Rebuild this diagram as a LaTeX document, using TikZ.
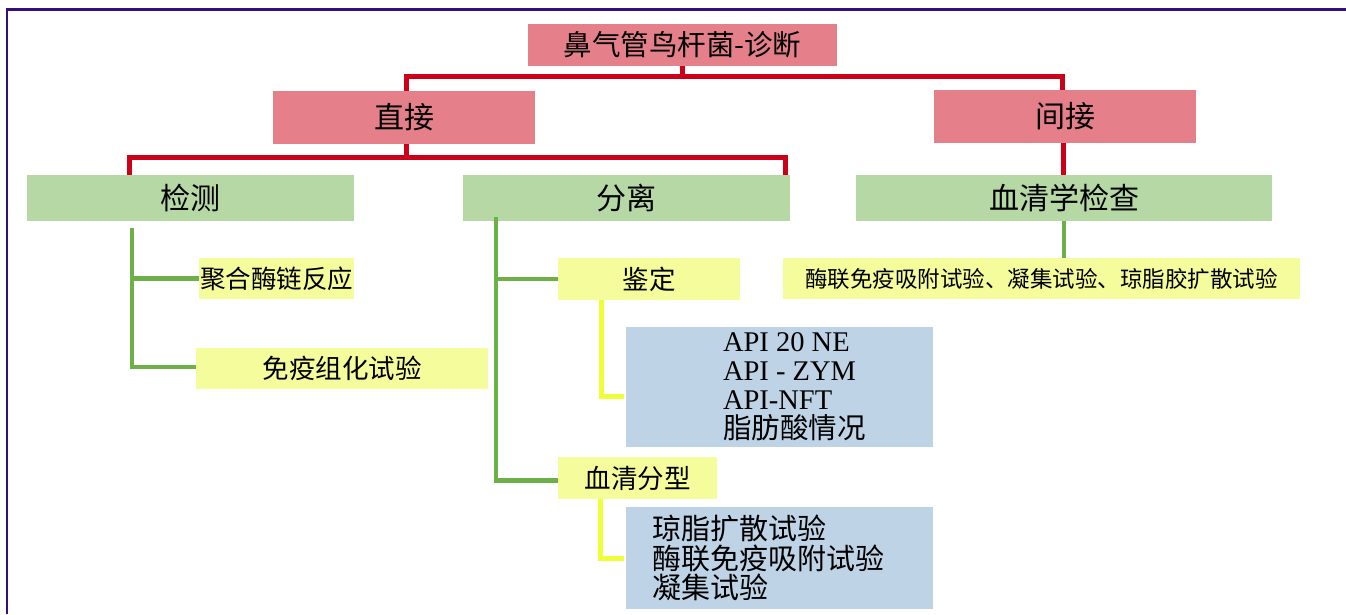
\documentclass[tikz,border=0pt]{standalone}
\usepackage{fontspec}
\setmainfont{Liberation Serif}
\newfontfamily\cjk{Noto Sans CJK SC}
\usetikzlibrary{calc}
\definecolor{boxred}{HTML}{E5808A}
\definecolor{linered}{HTML}{CC0019}
\definecolor{boxgreen}{HTML}{B5D8A4}
\definecolor{linegreen}{HTML}{6DB048}
\definecolor{boxyellow}{HTML}{F4FC9C}
\definecolor{lineyellow}{HTML}{EEFF38}
\definecolor{boxblue}{HTML}{BED4E6}
\definecolor{framepurple}{HTML}{35107A}
\tikzset{
  basebox/.style={rectangle, inner sep=0pt, outer sep=0pt, text=black},
  redbox/.style={basebox, fill=boxred},
  greenbox/.style={basebox, fill=boxgreen},
  yellowbox/.style={basebox, fill=boxyellow},
  bluebox/.style={basebox, fill=boxblue},
  redline/.style={draw=linered, line width=5pt},
  greenline/.style={draw=linegreen, line width=4.5pt},
  yellowline/.style={draw=lineyellow, line width=5pt},
  cjkfont/.style={font=\cjk\fontsize{#1}{#1}\selectfont},
}
\begin{document}
\begin{tikzpicture}[x=1pt,y=-1pt]
\useasboundingbox (0,0) rectangle (1346,614);
% frame
\draw[framepurple, line width=2.5pt] (7,614) -- (7,9.5) -- (1346,9.5);

% level 1
\node[redbox, cjkfont=28.5, minimum width=309pt, minimum height=42pt] (title) at (682.5,45) {鼻气管鸟杆菌-诊断};
% level 2
\node[redbox, cjkfont=30, minimum width=262pt, minimum height=53pt] (zj) at (404,117.5) {直接};
\node[redbox, cjkfont=30, minimum width=262pt, minimum height=53pt] (jj) at (1065,116.5) {间接};
% level 3
\node[greenbox, cjkfont=30, minimum width=327pt, minimum height=46pt] (jc) at (190.5,198) {检测};
\node[greenbox, cjkfont=30, minimum width=327pt, minimum height=46pt] (fl) at (626.5,198) {分离};
\node[greenbox, cjkfont=30, minimum width=416pt, minimum height=46pt] (xq) at (1064,198) {血清学检查};
% level 4
\node[yellowbox, cjkfont=25.5, minimum width=155pt, minimum height=41pt] (pcr) at (276.5,278.5) {聚合酶链反应};
\node[yellowbox, cjkfont=26.5, minimum width=292pt, minimum height=41pt] (ihc) at (342,368.5) {免疫组化试验};
\node[yellowbox, cjkfont=26.5, minimum width=182pt, minimum height=42pt] (jd) at (649,279) {鉴定};
\node[yellowbox, cjkfont=26.5, minimum width=159pt, minimum height=42pt] (xf) at (637.5,478) {血清分型};
\node[yellowbox, cjkfont=22.5, minimum width=517pt, minimum height=41pt] (elisa) at (1041.5,278.5) {酶联免疫吸附试验、凝集试验、琼脂胶扩散试验};
% level 5
\node[bluebox, minimum width=307pt, minimum height=120pt] (api) at (779.5,387) {};
\node[basebox, anchor=west, align=left, font=\fontsize{28.5}{29}\selectfont] (apitext) at (723,387) {API 20 NE\\API - ZYM\\API-NFT\\{\cjk 脂肪酸情况}};
\node[bluebox, minimum width=307pt, minimum height=102pt] (sero) at (779.5,558) {};
\node[basebox, anchor=west, align=left, font=\cjk\fontsize{29}{29.5}\selectfont] (serotext) at (652,558) {琼脂扩散试验\\酶联免疫吸附试验\\凝集试验};

% red connectors
\coordinate (r1) at ($(title.south)+(0,10)$);
\draw[redline] (title.south) -- (r1);
\draw[redline] ([xshift=2pt]zj.north) |- (r1) -| ([xshift=-3pt]jj.north);
\coordinate (r2) at ($(zj.south)+(2,13)$);
\draw[redline] ([xshift=2pt]zj.south) -- (r2);
\draw[redline] ([xshift=-61.5pt]jc.north) |- (r2) -| ([xshift=158.5pt]fl.north);
\draw[redline] ([xshift=-2pt]jj.south) -- ([xshift=-2pt]jj.south |- xq.north);

% green connectors
\coordinate (g1) at ($(jc.south)+(-58.5,7)$);
\draw[greenline] (g1) |- ([yshift=1.5pt]ihc.west);
\draw[greenline] (g1 |- pcr.west) -- (pcr.west);
\coordinate (g2) at ($(fl.south)+(-130.5,-4)$);
\draw[greenline] (g2) |- ([yshift=-2.5pt]xf.west);
\draw[greenline] (g2 |- jd.west) -- (jd.west);
\draw[greenline] (xq.south) -- (xq.south |- elisa.north);

% yellow connectors
\draw[yellowline] ([xshift=-48pt]jd.south) |- ([xshift=-2pt,yshift=-9pt]api.west);
\draw[yellowline] ([xshift=-37.5pt]xf.south) |- ([xshift=-2pt]sero.west);
\end{tikzpicture}
\end{document}
